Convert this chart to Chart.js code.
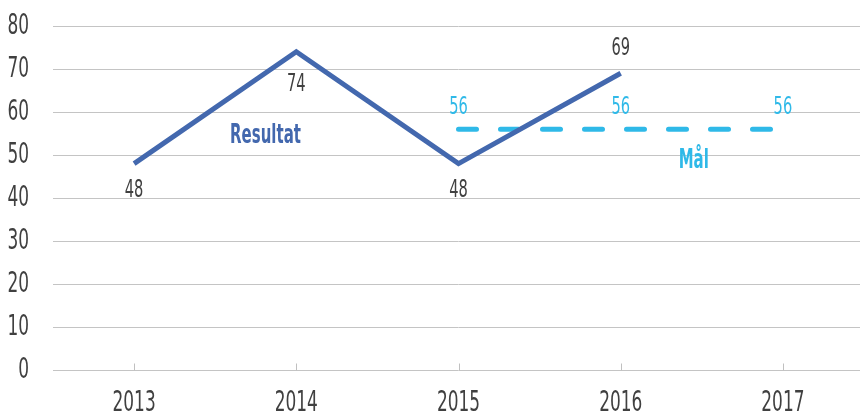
<!DOCTYPE html>
<html>
<head>
<meta charset="utf-8">
<script src="https://cdn.jsdelivr.net/npm/chart.js@4.4.1/dist/chart.umd.min.js"></script>
<style>
  html, body { margin: 0; padding: 0; background: #fff; overflow: hidden; }
  #wrap { width: 864px; height: 417px; }
</style>
</head>
<body>
<div id="wrap"><canvas id="chart"></canvas></div>
<script>
// chart values
const years = ['2013', '2014', '2015', '2016', '2017'];
const resultat = [48, 74, 48, 69, null];
const maal = [null, null, 56, 56, 56];
const seriesNames = ['Resultat', 'Mål'];

const FONT = "'DejaVu Sans Condensed', 'DejaVu Sans', sans-serif";
const BLUE = '#4368ae';
const CYAN = '#2fb9e8';
const TEXT = '#404040';

// narrow text: squeeze the glyphs horizontally to get the tall condensed look
function narrowText(ctx, text, x, y, font, color, sx, align) {
    ctx.save();
    ctx.font = font;
    ctx.fillStyle = color;
    ctx.textAlign = align || 'center';
    ctx.textBaseline = 'middle';
    ctx.translate(x, y);
    ctx.scale(sx, 1);
    ctx.fillText(text, 0, 0);
    ctx.restore();
}

// axis labels, point labels, series names, small category ticks
const labelPlugin = {
    id: 'labels',
    afterDraw(chart) {
        const ctx = chart.ctx;
        const x = chart.scales.x, y = chart.scales.y;
        const tickFont = '29px ' + FONT;

        y.ticks.forEach((t, i) => {
            narrowText(ctx, String(t.value), 29, y.getPixelForTick(i), tickFont, TEXT, 0.65, 'right');
        });
        x.ticks.forEach((t, i) => {
            narrowText(ctx, years[t.value], x.getPixelForTick(i), 403, tickFont, TEXT, 0.65);
        });

        chart.data.datasets.forEach((ds, i) => {
            const meta = chart.getDatasetMeta(i);
            meta.data.forEach((pt, j) => {
                if (ds.data[j] == null) return;
                narrowText(ctx, String(ds.data[j]), pt.x, pt.y + ds.labelOffsets[j],
                    '25px ' + FONT, ds.labelColor, 0.65);
            });
            narrowText(ctx, ds.label, x.getPixelForValue(ds.namePos[0]), y.getPixelForValue(ds.namePos[1]),
                'bold 26px ' + FONT, ds.borderColor, 0.64);
        });

        ctx.save();
        ctx.strokeStyle = '#c0c0c0';
        ctx.lineWidth = 1;
        const base = Math.round(y.getPixelForValue(0)) + 0.5;
        years.forEach((yr, j) => {
            const px = Math.round(x.getPixelForValue(j)) + 0.5;
            ctx.beginPath();
            ctx.moveTo(px, base - 7);
            ctx.lineTo(px, base);
            ctx.stroke();
        });
        ctx.restore();
    }
};

new Chart(document.getElementById('chart'), {
    type: 'line',
    data: {
        labels: years,
        datasets: [{
            label: seriesNames[0],
            data: resultat,
            borderColor: BLUE,
            borderWidth: 5,
            pointRadius: 0,
            tension: 0,
            labelColor: TEXT,
            labelOffsets: [27, 33, 27, -25, 0],
            namePos: [0.81, 54.4]
        }, {
            label: seriesNames[1],
            data: maal,
            borderColor: CYAN,
            borderWidth: 5,
            borderDash: [18, 24],
            borderCapStyle: 'round',
            pointRadius: 0,
            labelColor: CYAN,
            labelOffsets: [0, 0, -22, -22, -22],
            namePos: [3.45, 48.6]
        }]
    },
    options: {
        responsive: true,
        maintainAspectRatio: false,
        animation: false,
        events: [],
        layout: { padding: { top: 26, right: 0, left: 0, bottom: 0 } },
        scales: {
            x: {
                offset: true,
                grid: { display: false },
                border: { display: false },
                ticks: { display: false },
                afterFit(s) { s.height = 47; }
            },
            y: {
                min: 0,
                max: 80,
                ticks: { stepSize: 10, display: false },
                grid: { color: '#c4c4c4', drawTicks: false },
                border: { display: false },
                afterFit(s) { s.width = 53; }
            }
        },
        plugins: {
            legend: { display: false },
            tooltip: { enabled: false }
        }
    },
    plugins: [labelPlugin]
});
</script>
</body>
</html>
